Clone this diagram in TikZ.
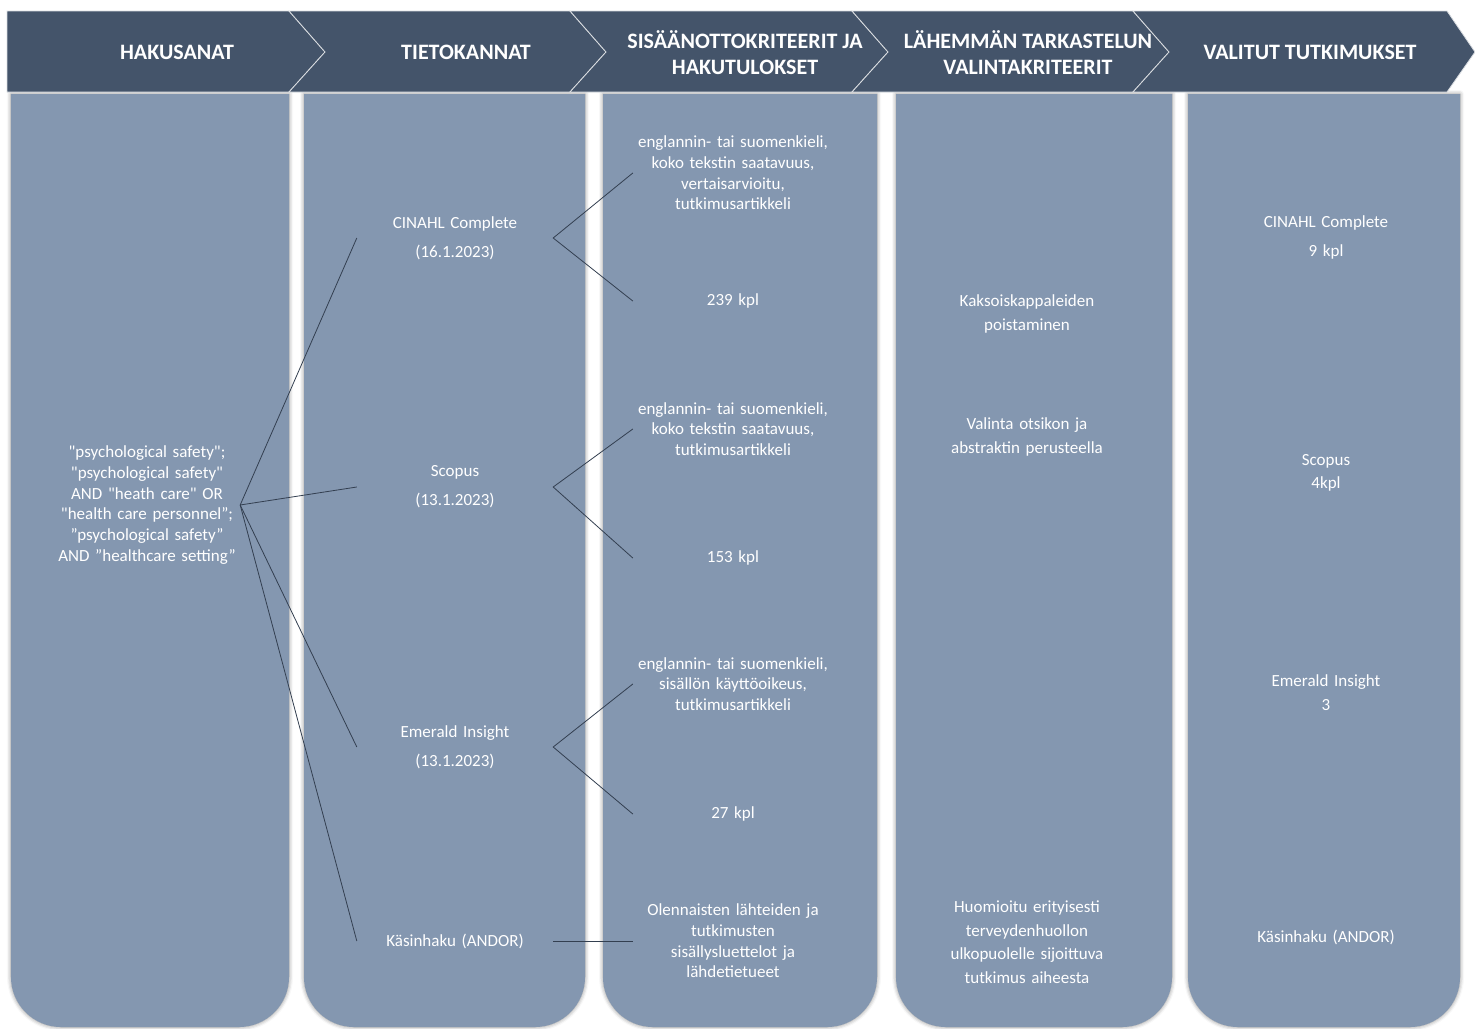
\documentclass[tikz,border=0pt]{standalone}
\usepackage{fontspec}
\setmainfont{Carlito}[Ligatures=TeXOff]
\usetikzlibrary{shadows.blur}

\definecolor{bandblue}{HTML}{44546A}
\definecolor{colblue}{HTML}{8497B0}
\definecolor{linkgray}{HTML}{333F50}

\begin{document}
\begin{tikzpicture}[x=1pt, y=-1pt,
    txt/.style={text=white, font=\fontsize{17}{20.7}\selectfont, align=center, inner sep=0pt},
    txtwide/.style={txt, font=\fontsize{17}{23.5}\selectfont},
    head/.style={text=white, font=\bfseries\fontsize{22}{26}\selectfont, align=center, inner sep=0pt},
    chevron/.style={fill=bandblue, draw=white!80!bandblue, line width=0.8pt},
    column/.style={fill=colblue, blur shadow={shadow xshift=0pt, shadow yshift=0pt, shadow blur radius=4pt, shadow opacity=45}},
    link/.style={draw=linkgray, line width=0.8pt}]
    \useasboundingbox (0, 0) rectangle (1475, 1028);

    % columns
    \foreach \xa/\xb in {11/289, 304/585, 603/877, 896/1172, 1188/1460} {
        \path[column] (\xa, 94) -- (\xa, 977) arc[start angle=180, end angle=270, radius=50pt]
            -- (\xb-50, 1027) arc[start angle=270, end angle=360, radius=50pt] -- (\xb, 94) -- cycle;
    }

    % header band
    \draw[chevron] (7, 11) -- (289, 11) -- (325, 52) -- (289, 92) -- (7, 92) -- cycle;
    \foreach \xa/\xb in {289/570, 570/852, 852/1133} {
        \draw[chevron] (\xa, 11) -- (\xb, 11) -- (\xb+36, 52) -- (\xb, 92) -- (\xa, 92) -- (\xa+36, 52) -- cycle;
    }
    \draw[chevron] (1133, 11) -- (1447, 11) -- (1475, 52) -- (1447, 92) -- (1133, 92) -- (1169, 52) -- cycle;

    \node[head] (hHaku) at (177, 52) {HAKUSANAT};
    \node[head] (hTieto) at (466, 52) {TIETOKANNAT};
    \node[head] (hSisa) at (745, 53) {SISÄÄNOTTOKRITEERIT JA\\HAKUTULOKSET};
    \node[head] (hLahe) at (1028, 53) {LÄHEMMÄN TARKASTELUN\\VALINTAKRITEERIT};
    \node[head] (hValit) at (1310, 52) {VALITUT TUTKIMUKSET};

    % hakusanat
    \node[txt, text width=186pt] (query) at (147, 505) {"psychological safety";\\"psychological safety"\\AND "heath care" OR\\"health care personnel”;\\”psychological safety”\\AND ”healthcare setting”};

    % tietokannat
    \node[txt, text width=196pt] (cinahl) at (455, 238) {CINAHL Complete\\[8.3pt](16.1.2023)};
    \node[txt, text width=196pt] (scopus) at (455, 487) {Scopus\\[8.3pt](13.1.2023)};
    \node[txt, text width=196pt] (emerald) at (455, 747) {Emerald Insight\\[8.3pt](13.1.2023)};
    \node[txt, text width=196pt] (kasin) at (455, 941) {Käsinhaku (ANDOR)};

    % kriteerit ja tulokset
    \node[txt, text width=200pt] (crit1) at (733, 173) {englannin- tai suomenkieli,\\koko tekstin saatavuus,\\vertaisarvioitu,\\tutkimusartikkeli};
    \node[txt, text width=200pt] (kpl1) at (733, 301) {239 kpl};
    \node[txt, text width=200pt] (crit2) at (733, 429) {englannin- tai suomenkieli,\\koko tekstin saatavuus,\\tutkimusartikkeli};
    \node[txt, text width=200pt] (kpl2) at (733, 558) {153 kpl};
    \node[txt, text width=200pt] (crit3) at (733, 684) {englannin- tai suomenkieli,\\sisällön käyttöoikeus,\\tutkimusartikkeli};
    \node[txt, text width=200pt] (kpl3) at (733, 814) {27 kpl};
    \node[txt, text width=200pt] (hand) at (733, 941) {Olennaisten lähteiden ja\\tutkimusten\\sisällysluettelot ja\\lähdetietueet};

    % valintakriteerit
    \node[txtwide, text width=240pt] (dupl) at (1027, 314) {Kaksoiskappaleiden\\poistaminen};
    \node[txtwide, text width=240pt] (abstr) at (1027, 437) {Valinta otsikon ja\\abstraktin perusteella};
    \node[txtwide, text width=240pt] (outside) at (1027, 942) {Huomioitu erityisesti\\terveydenhuollon\\ulkopuolelle sijoittuva\\tutkimus aiheesta};

    % valitut
    \node[txt, text width=240pt] (resCinahl) at (1326, 237) {CINAHL Complete\\[8.3pt]9 kpl};
    \node[txt, text width=240pt] (resScopus) at (1326, 473) {Scopus\\[2.3pt]4kpl};
    \node[txt, text width=240pt] (resEmerald) at (1326, 693) {Emerald Insight\\[3.3pt]3};
    \node[txt, text width=240pt] (resHand) at (1326, 937) {Käsinhaku (ANDOR)};

    % connectors
    \foreach \db in {cinahl, scopus, emerald, kasin}
        \draw[link] (query.east) -- (\db.west);
    \draw[link] (crit1.west) -- (cinahl.east) -- (kpl1.west);
    \draw[link] (crit2.west) -- (scopus.east) -- (kpl2.west);
    \draw[link] (crit3.west) -- (emerald.east) -- (kpl3.west);
    \draw[link] (kasin.east) -- (hand.west);
\end{tikzpicture}
\end{document}
